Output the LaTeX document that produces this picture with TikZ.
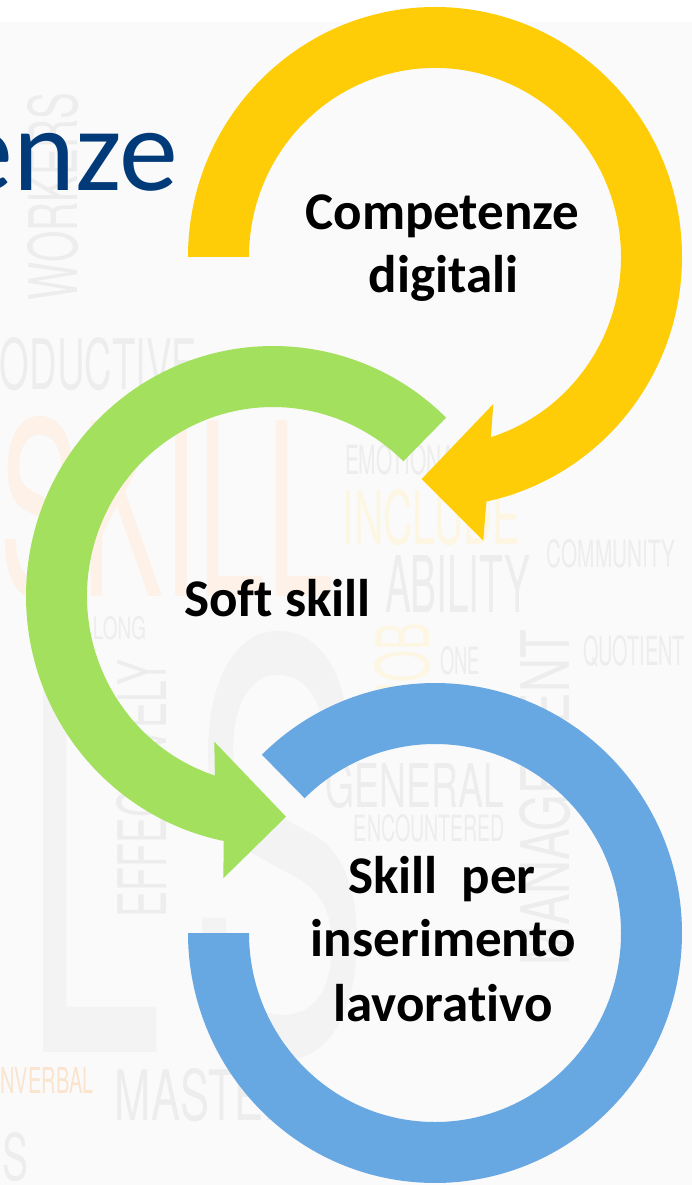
\documentclass[tikz,border=0pt]{standalone}
\usepackage{fontspec}
\setmainfont{Carlito}[Ligatures={NoCommon}]
\newfontfamily\cloudfont{TeX Gyre Heros}
\definecolor{ringyellow}{RGB}{255,205,8}
\definecolor{ringgreen}{RGB}{163,224,93}
\definecolor{ringblue}{RGB}{104,168,226}
\definecolor{titleblue}{RGB}{0,58,120}
\definecolor{pagegray}{RGB}{250,250,250}
\definecolor{cloudgray}{RGB}{237,237,237}
\definecolor{cloudlight}{RGB}{243,243,243}
\definecolor{cloudorange}{RGB}{253,241,232}
\definecolor{cloudamber}{RGB}{250,228,205}
\definecolor{cloudyellow}{RGB}{253,246,226}
% a word of the background cloud, stretched into a box of width #1 and cap height #2
\newcommand{\cloudword}[3]{\resizebox{#1pt}{#2pt}{\cloudfont #3}}
\tikzset{
  cloud/.style={inner sep=0pt, anchor=center},
  ringtext/.style={font=\bfseries\fontsize{53}{53}\selectfont, inner sep=0pt, anchor=base, text=black},
}
\begin{document}
\begin{tikzpicture}[x=1pt, y=-1pt]
\useasboundingbox (0,0) rectangle (692,1185);
\clip (0,0) rectangle (692,1185);
% page background
\fill[white] (0,0) rectangle (692,1185);
\fill[pagegray] (0,22) rectangle (692,1185);

% faint word cloud
\node[cloud, text=cloudgray, rotate=90] (wWorkers) at (53,196.5) {\cloudword{207}{50}{WORKERS}};
\node[cloud, text=cloudgray] (wProductive) at (98.5,364) {\cloudword{197}{52}{ODUCTIVE}};
\node[cloud, text=cloudorange] (wSkill) at (167,509) {\cloudword{335}{180}{SKILL}};
\node[cloud, text=cloudgray] (wEmotional) at (406,460) {\cloudword{122}{30}{EMOTIONAL}};
\node[cloud, text=cloudyellow] (wInclude) at (431.5,517.5) {\cloudword{177}{55}{INCLUDE}};
\node[cloud, text=cloudgray] (wAbility) at (457.5,583.5) {\cloudword{145}{57}{ABILITY}};
\node[cloud, text=cloudgray] (wCommunity) at (611,554) {\cloudword{128}{28}{COMMUNITY}};
\node[cloud, text=cloudgray] (wLong) at (119.5,628.5) {\cloudword{53}{23}{LONG}};
\node[cloud, text=cloudyellow, rotate=90] (wJob) at (402.5,663) {\cloudword{80}{55}{JOB}};
\node[cloud, text=cloudgray] (wOne) at (460,661) {\cloudword{40}{28}{ONE}};
\node[cloud, text=cloudgray, rotate=90] (wManagement) at (545,797.5) {\cloudword{335}{50}{MANAGEMENT}};
\node[cloud, text=cloudgray] (wQuotient) at (634,651.5) {\cloudword{102}{30}{QUOTIENT}};
\node[cloud, text=cloudlight] (wBigS) at (280,847) {\cloudword{180}{420}{S}};
\node[cloud, text=cloudlight] (wBigL) at (93.5,851) {\cloudword{139}{402}{L}};
\node[cloud, text=cloudgray, rotate=90] (wEffectively) at (142,788.5) {\cloudword{257}{50}{EFFECTIVELY}};
\node[cloud, text=cloudgray] (wGeneral) at (415,785.5) {\cloudword{178}{45}{GENERAL}};
\node[cloud, text=cloudgray] (wEncountered) at (429.5,828.5) {\cloudword{151}{27}{ENCOUNTERED}};
\node[cloud, text=cloudamber] (wNonverbal) at (47,1080) {\cloudword{93}{26}{NVERBAL}};
\node[cloud, text=cloudgray] (wMaster) at (205,1095) {\cloudword{180}{52}{MASTER}};
\node[cloud, text=cloudgray] (wEs) at (16,1157) {\cloudword{26}{48}{S}};

% title, running off the left edge
\node[anchor=base east, inner sep=0pt, text=titleblue, font=\fontsize{118}{118}\selectfont] (title) at (178,190) {enze};

% yellow circular arrow
\fill[ringyellow] (435,257) ++(180:247 and 250)
  arc[start angle=180, end angle=438, x radius=247, y radius=250]
  -- (483.3,540.7) -- (421.7,479) -- (493.3,404) -- (490.9,437.2)
  arc[start angle=432.5, end angle=180, x radius=186, y radius=189] -- cycle;

% green circular arrow
\fill[ringgreen] (273,596) ++(-45.5:247 and 250)
  arc[start angle=-45.5, end angle=-258.5, x radius=247, y radius=250]
  -- (223.3,878.3) -- (286,816.7) -- (214.3,741.7) -- (214.9,775.6)
  arc[start angle=-251.8, end angle=-45.5, x radius=186, y radius=189] -- cycle;

% blue open ring
\fill[ringblue] (435,933) ++(-134.5:247 and 250)
  arc[start angle=-134.5, end angle=180, x radius=247, y radius=250]
  -- (249,933)
  arc[start angle=180, end angle=-134.5, x radius=186, y radius=189] -- cycle;

% ring captions
\node[ringtext] (compA) at (442.5,229) {Competenze};
\node[ringtext] (compB) at (443.5,292) {digitali};
\node[ringtext] (soft) at (277.5,616.7) {Soft skill};
\node[ringtext] (skillA) at (442,893.3) {Skill\ \ per};
\node[ringtext] (skillB) at (443.5,956.7) {inserimento};
\node[ringtext] (skillC) at (443,1021.7) {lavorativo};
\end{tikzpicture}
\end{document}
